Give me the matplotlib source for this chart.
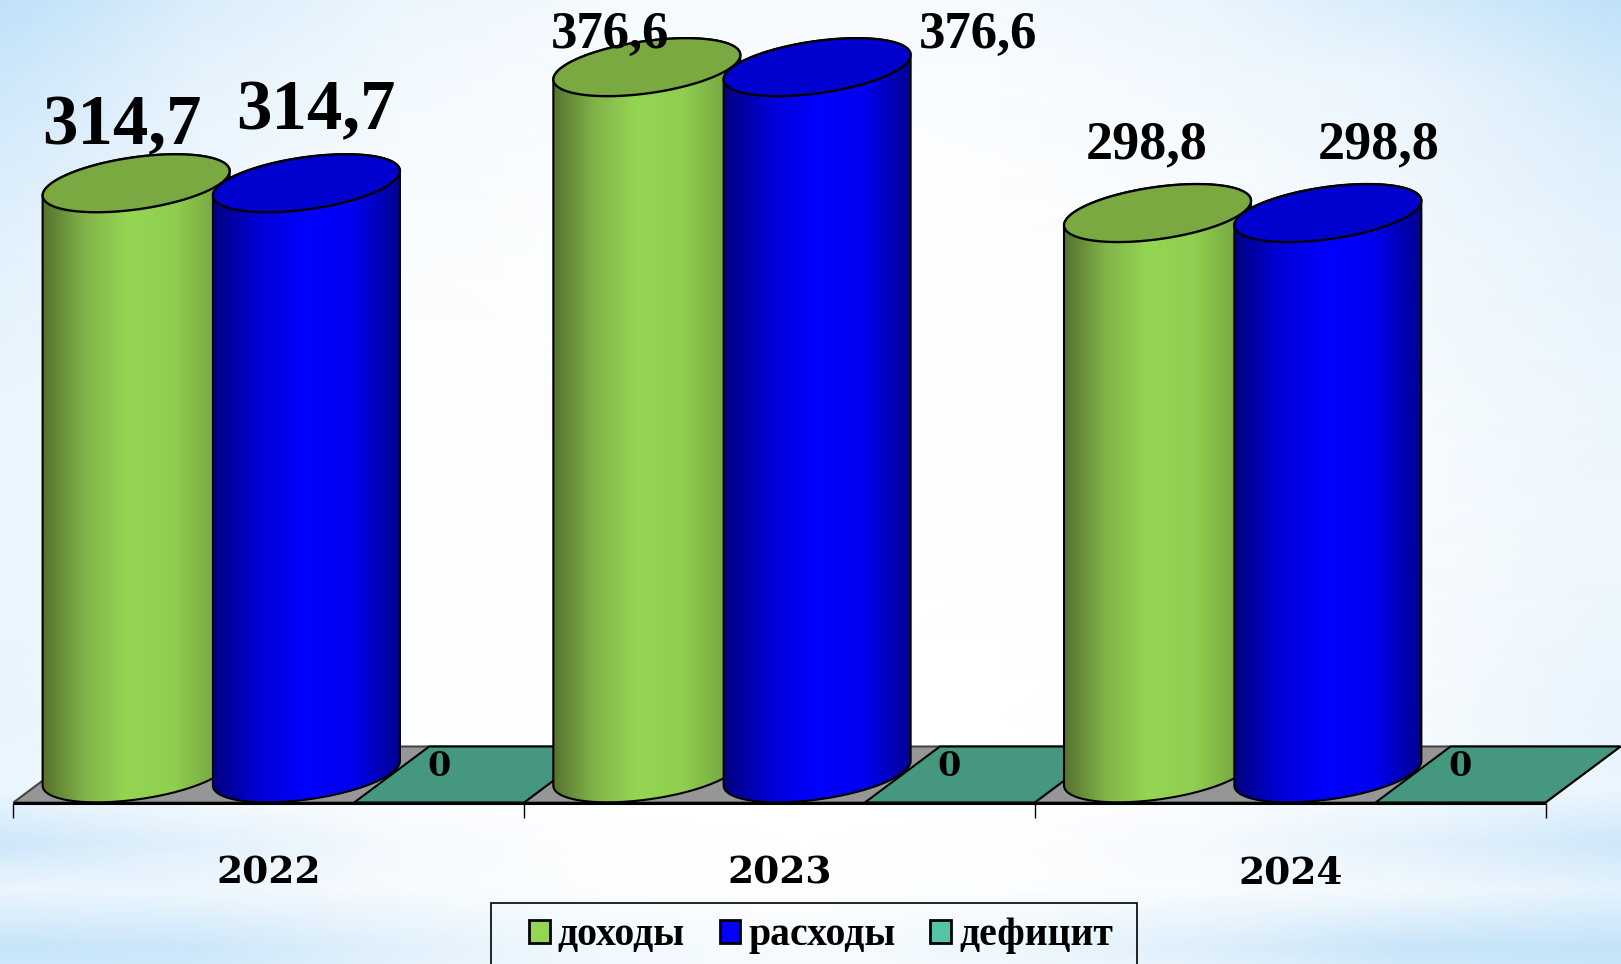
import numpy as np
import matplotlib
matplotlib.use('Agg')
import matplotlib.pyplot as plt
from matplotlib.colors import LinearSegmentedColormap
from matplotlib.patches import Patch, Polygon, Rectangle

years = ['2022', '2023', '2024']
dohody = [314.7, 376.6, 298.8]
rashody = [314.7, 376.6, 298.8]
deficit = [0, 0, 0]
series_names = ['доходы', 'расходы', 'дефицит']
value_labels = ['314,7', '376,6', '298,8']

W, H = 1621, 964
TICK_LEFT = 13.4      # пиксель первой засечки
CAT_W = 510.7         # ширина категории
ZERO_Y = 773.3        # центр нижнего эллипса
PX_PER_UNIT = 1.875

fig = plt.figure(figsize=(W / 100, H / 100), dpi=100)

# фон: сетка "голубизны" по пикселям картинки
bg_cols = [0, 200, 400, 600, 800, 1000, 1200, 1400, 1621]
bg_rows = [0, 80, 160, 240, 400, 560, 720, 790, 843, 890, 947, 964]
bg_grid = [
    [.95, .55, .28, .16, .12, .16, .32, .60, .95],
    [.75, .38, .20, .10, .07, .10, .20, .30, .70],
    [.58, .28, .13, .06, .04, .06, .13, .24, .52],
    [.45, .22, .09, .04, .02, .04, .09, .20, .40],
    [.32, .15, .05, .02, .02, .02, .05, .14, .28],
    [.30, .12, .04, .02, .02, .02, .04, .12, .26],
    [.35, .16, .05, .01, .01, .01, .04, .12, .34],
    [.28, .10, .03, .00, .00, .00, .03, .14, .32],
    [.75, .45, .15, .03, .00, .03, .15, .40, .75],
    [.30, .25, .12, .04, .02, .04, .10, .20, .40],
    [.85, .75, .45, .20, .12, .25, .50, .80, .90],
    [.75, .70, .40, .20, .12, .20, .40, .70, .80],
]
bg_ax = fig.add_axes([0, 0, 1, 1])
bg_cmap = LinearSegmentedColormap.from_list('bg', ['#ffffff', '#bcdff8'])
bg_ax.pcolormesh(bg_cols, bg_rows, bg_grid, cmap=bg_cmap, vmin=0, vmax=1, shading='gouraud')
bg_ax.set_xlim(0, W)
bg_ax.set_ylim(H, 0)
bg_ax.axis('off')

ax = fig.add_axes([0, 0, 1, 1])
ax.patch.set_alpha(0)
ax.axis('off')
xlim = (-TICK_LEFT / CAT_W, (W - TICK_LEFT) / CAT_W)
ylim = ((ZERO_Y - H) / PX_PER_UNIT, ZERO_Y / PX_PER_UNIT)


def dx(px):
    return px / CAT_W


def dy(px):
    return px / PX_PER_UNIT


def xp(px):
    return (px - TICK_LEFT) / CAT_W


def yp(py):
    return (ZERO_Y - py) / PX_PER_UNIT


BASE = yp(802.5)
BACK = yp(746.5)
SHIFT = dx(75)
PLATE_W = 0.3327

EDGE = 1.5
n = len(years)

# пол и нулевые "плитки" дефицита
for i in range(n):
    ax.add_patch(Polygon([(i, BASE), (i + 1, BASE), (i + 1 + SHIFT, BACK), (i + SHIFT, BACK)],
                         fc='#969696', ec='#444444', lw=EDGE, zorder=1))
for i, v in enumerate(deficit):
    ax.add_patch(Polygon([(i + 1 - PLATE_W, BASE + v), (i + 1, BASE + v),
                          (i + 1 + SHIFT, BACK + v), (i + 1 - PLATE_W + SHIFT, BACK + v)],
                         fc='#45977f', ec='black', lw=EDGE, zorder=2))
    ax.text(i + 0.833, yp(767), str(v), ha='center', va='center', fontsize=24,
            family='DejaVu Serif', weight='bold', color='black', zorder=6)

ax.plot([0, n], [BASE, BASE], color='black', lw=2.2, zorder=5, solid_capstyle='butt')
ax.vlines(range(n + 1), yp(818), BASE, color='black', lw=1, zorder=5)

# цилиндры
half_w = 93.5
half_h = 29
phi = np.radians(25)
t = np.linspace(0, 2 * np.pi, 241)


def lid(cx, cy, tt):
    return cx + dx(half_w) * np.cos(tt), cy + dy(half_h) * np.sin(tt + phi)


def cylinder(cx, value, colors, lid_color, z):
    cmap = LinearSegmentedColormap.from_list('c', colors)
    low = np.linspace(np.pi, 2 * np.pi, 80)
    up = np.linspace(0, np.pi, 80)
    bx, by = lid(cx, 0, low)
    tx, ty = lid(cx, value, up)
    body = Polygon(np.column_stack([np.r_[bx, tx], np.r_[by, ty]]), fc='none', ec='black', lw=EDGE, zorder=z + 0.2)
    ax.add_patch(body)
    grad = np.linspace(0, 1, 256).reshape(1, -1)
    im = ax.imshow(grad, cmap=cmap, aspect='auto', zorder=z + 0.1,
                   extent=(cx - dx(half_w), cx + dx(half_w), by.min() - 1, value + dy(half_h)))
    im.set_clip_path(body)
    ex, ey = lid(cx, value, t)
    ax.add_patch(Polygon(np.column_stack([ex, ey]), fc=lid_color, ec='black', lw=EDGE + 0.2, zorder=z + 0.3))


green_cols = [(0, '#55722f'), (0.22, '#82b349'), (0.45, '#94d653'), (0.7, '#8fcf50'), (1, '#6f9a3c')]
blue_cols = [(0, '#00007f'), (0.25, '#0000d8'), (0.5, '#0000ff'), (0.75, '#0000f0'), (1, '#000090')]
x_green = 0.2403
x_blue = 0.5738
for i in range(n):
    cylinder(i + x_green, dohody[i], green_cols, '#7aa942', 3)
    cylinder(i + x_blue, rashody[i], blue_cols, '#0000cf', 4)

ax.set_xlim(xlim)
ax.set_ylim(ylim)

# подписи значений
serif = 'Liberation Serif'
label_pos = [[(122, 127, 51), (316, 112, 51)],
             [(610, 35, 38), (978, 35, 38)],
             [(1147, 145, 39), (1379, 145, 39)]]
for i in range(n):
    for px, py, fs in label_pos[i]:
        ax.text(xp(px), yp(py), value_labels[i], ha='center', va='center', fontsize=fs,
                family=serif, weight='bold', color='black', zorder=7)

for i, y in enumerate(years):
    ax.text(i + 0.5, yp(873), y, ha='center', va='center', fontsize=27,
            family='DejaVu Serif', weight='bold', color='black', zorder=7)

# рамка легенды уходит за нижний край картинки
fig.add_artist(Rectangle((491 / W, -0.02), (1137 - 491) / W, 0.02 + 1 - 903 / H,
                         transform=fig.transFigure, fc='none', ec='black', lw=1.2))
handles = [Patch(fc='#94d653', ec='black', lw=2),
           Patch(fc='#0000ff', ec='black', lw=2),
           Patch(fc='#55c5a9', ec='black', lw=2)]
leg = fig.legend(handles, series_names, ncol=3, loc='center left',
                 bbox_to_anchor=(529 / W, 1 - 936 / H), borderaxespad=0,
                 prop={'family': serif, 'weight': 'bold', 'size': 28.6},
                 handlelength=0.52, handleheight=0.52, handletextpad=0.2,
                 columnspacing=0.88, borderpad=0, frameon=False)

fig.savefig('out.png', dpi=100)
